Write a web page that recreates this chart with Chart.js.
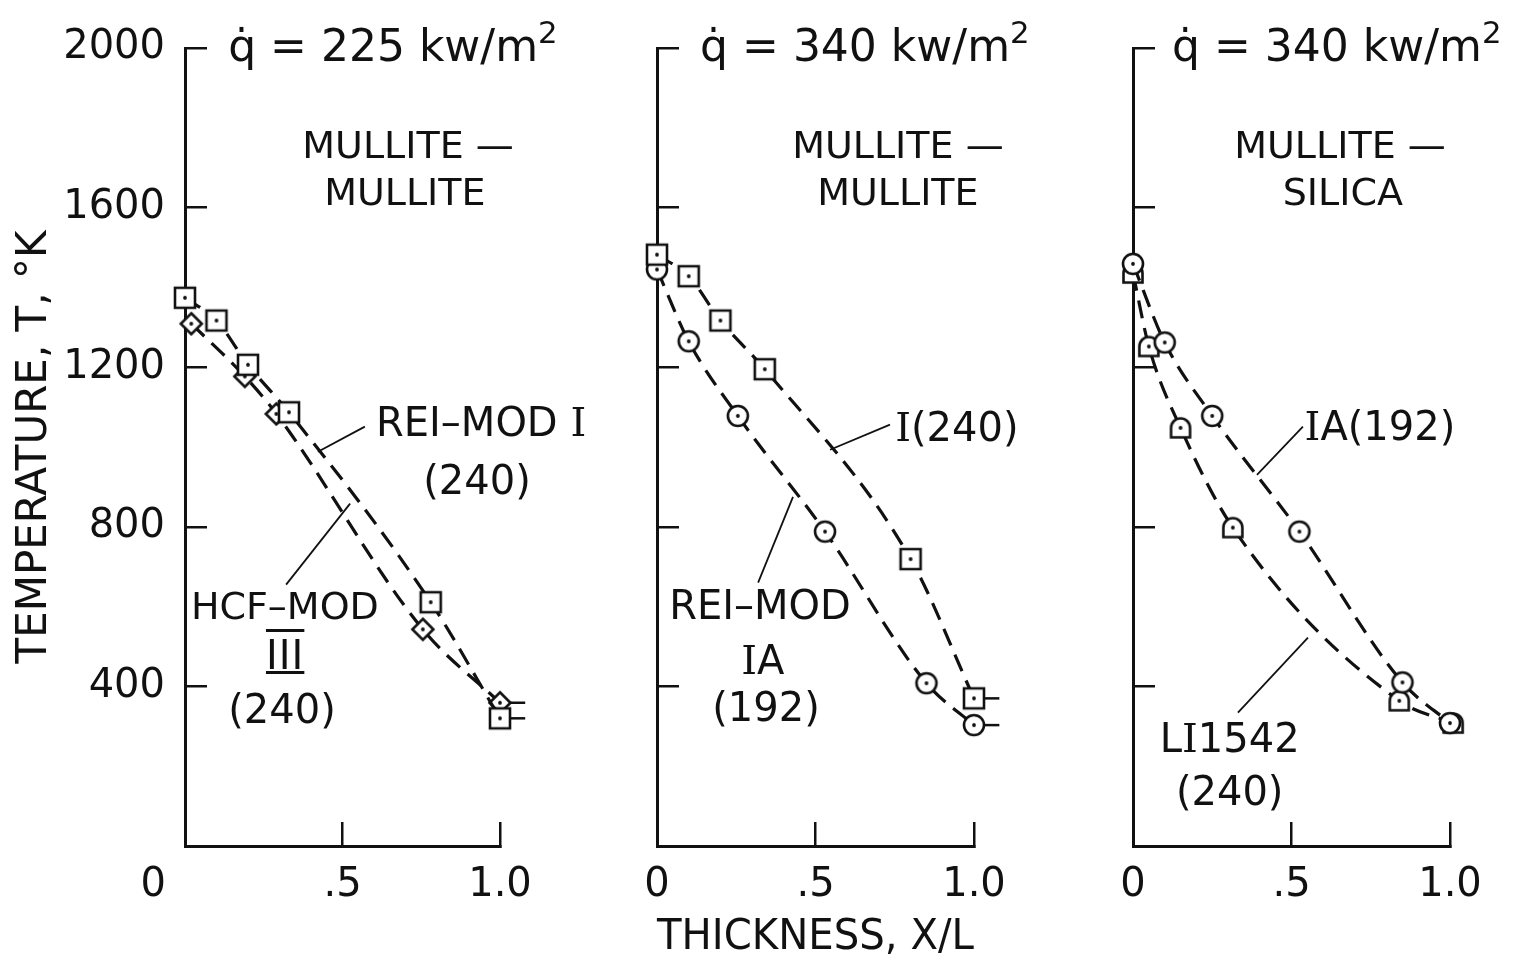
<!DOCTYPE html>
<html>
<head>
<meta charset="utf-8">
<script src="https://cdn.jsdelivr.net/npm/chart.js@4.4.1/dist/chart.umd.min.js"></script>
<style>
html, body { margin: 0; padding: 0; background: #fff; }
#wrap { position: relative; width: 1522px; height: 964px; overflow: hidden; }
#wrap canvas { position: absolute; left: 0; top: 0; }
.lbl { position: absolute; font-family: "DejaVu Sans"; color: #111; line-height: 1; white-space: nowrap; transform: translate(-50%, -50%); }
.lbl.start { transform: translate(0, -50%); }
.rn { font-family: "DejaVu Serif"; }
.sup { font-size: 0.7em; position: relative; top: -0.6em; }
.bars { text-decoration: overline underline; text-decoration-thickness: 3px; letter-spacing: 1px; }
</style>
</head>
<body>
<div id="wrap">
  <canvas id="c1" width="1522" height="964"></canvas>
  <canvas id="c2" width="1522" height="964"></canvas>
  <canvas id="c3" width="1522" height="964"></canvas>
</div>
<script>
// left panel, q = 225 kw/m2, mullite-mullite
var leftReiX = [0.0, 0.10, 0.20, 0.33, 0.78, 1.0];
var leftReiT = [1374, 1317, 1206, 1087, 611, 320];
var leftHcfX = [0.02, 0.19, 0.29, 0.755, 1.0];
var leftHcfT = [1309, 1177, 1083, 543, 359];

// middle panel, q = 340 kw/m2, mullite-mullite
var midIX = [0.0, 0.10, 0.20, 0.34, 0.80, 1.0];
var midIT = [1482, 1428, 1317, 1195, 719, 370];
var midIaX = [0.0, 0.10, 0.255, 0.53, 0.85, 1.0];
var midIaT = [1445, 1265, 1078, 788, 408, 303];

// right panel, q = 340 kw/m2, mullite-silica
var rightIaX = [0.0, 0.10, 0.25, 0.525, 0.85, 1.0];
var rightIaT = [1459, 1262, 1078, 788, 410, 308];
var rightLiX = [0.0, 0.05, 0.15, 0.315, 0.84, 1.01];
var rightLiT = [1436, 1252, 1048, 798, 364, 308];

// ticks
var xTickVals = [0, 0.5, 1.0];
var xTickLabels = ['0', '.5', '1.0'];
var yTickVals = [400, 800, 1200, 1600, 2000];
var yTickLabels = ['400', '800', '1200', '1600', '2000'];

Chart.defaults.font.family = 'DejaVu Sans';
Chart.defaults.color = '#111';

function pts(xs, ts) {
    return xs.map(function (x, i) { return { x: x, y: ts[i] }; });
}

function marker(shape) {
    var s = 30, m = s / 2, r = 10.5;
    var c = document.createElement('canvas');
    c.width = s; c.height = s;
    var g = c.getContext('2d');
    g.lineWidth = 2.6;
    g.strokeStyle = '#111';
    g.fillStyle = '#fff';
    g.beginPath();
    if (shape == 'square') {
        g.rect(m - r + 0.5, m - r + 0.5, 2 * r - 1, 2 * r - 1);
    } else if (shape == 'diamond') {
        g.moveTo(m, m - r); g.lineTo(m + r, m); g.lineTo(m, m + r); g.lineTo(m - r, m); g.closePath();
    } else if (shape == 'circle') {
        g.arc(m, m, r - 0.5, 0, 2 * Math.PI);
    } else {
        g.moveTo(m - r + 1, m + r - 1); g.lineTo(m - r + 1, m); g.arc(m, m, r - 1, Math.PI, 0); g.lineTo(m + r - 1, m + r - 1); g.closePath();
    }
    g.fill();
    g.stroke();
    g.fillStyle = '#111';
    g.beginPath();
    g.arc(m, m, 1.9, 0, 2 * Math.PI);
    g.fill();
    return c;
}

function curve(xs, ts, shape) {
    return {
        data: pts(xs, ts),
        borderColor: '#111', borderWidth: 3.2, borderDash: [18, 10],
        tension: 0.4, cubicInterpolationMode: 'monotone',
        pointStyle: marker(shape), pointRadius: 11, pointHoverRadius: 11,
        clip: false
    };
}

// short flag to the right of the back-face point
function tail(t) {
    return {
        data: [{ x: 1.0, y: t }, { x: 1.08, y: t }],
        borderColor: '#111', borderWidth: 2.5, pointRadius: 0, tension: 0, clip: false
    };
}

function leader(x1, t1, x2, t2) {
    return {
        data: [{ x: x1, y: t1 }, { x: x2, y: t2 }],
        borderColor: '#111', borderWidth: 1.8, pointRadius: 0, tension: 0, clip: false
    };
}

function makePanel(id, area, sets, opt) {
    return new Chart(document.getElementById(id), {
        type: 'line',
        data: { datasets: sets },
        options: {
            responsive: false,
            animation: false,
            devicePixelRatio: 1,
            events: [],
            layout: { padding: { left: area.left - opt.yWidth, right: 1522 - area.right, top: area.top, bottom: 0 } },
            plugins: { legend: { display: false }, tooltip: { enabled: false } },
            scales: {
                x: {
                    type: 'linear', min: 0, max: 1,
                    afterFit: function (s) { s.height = 964 - area.bottom; },
                    afterBuildTicks: function (s) { s.ticks = xTickVals.map(function (v) { return { value: v }; }); },
                    border: { display: true, color: '#111', width: 3 },
                    grid: { drawOnChartArea: false, drawTicks: true, tickLength: -24, color: '#111', lineWidth: 2.5 },
                    ticks: {
                        padding: 40, maxRotation: 0, autoSkip: false,
                        font: { size: 40 },
                        callback: function (v) {
                            var l = xTickLabels[xTickVals.indexOf(v)];
                            if (v === 0 && opt.zeroShift) l = l + '     ';
                            return l;
                        }
                    },
                    title: {
                        display: !!opt.xTitle, text: opt.xTitle || '',
                        font: { size: 42 }, padding: { top: 0, bottom: 1 }
                    }
                },
                y: {
                    type: 'linear', min: 0, max: 2000,
                    afterFit: function (s) { s.width = opt.yWidth; s.paddingTop = 0; s.paddingBottom = 0; },
                    afterBuildTicks: function (s) { s.ticks = yTickVals.map(function (v) { return { value: v }; }); },
                    border: { display: true, color: '#111', width: 3 },
                    grid: { drawOnChartArea: false, drawTicks: true, tickLength: -22, color: '#111', lineWidth: 2.5 },
                    ticks: {
                        padding: 42, font: { size: 40 },
                        callback: function (v) { return opt.yLabels ? yTickLabels[yTickVals.indexOf(v)] : ''; }
                    },
                    title: {
                        display: !!opt.yTitle, text: opt.yTitle || '',
                        font: { size: 42 }, padding: { top: 10, bottom: 0 }
                    }
                }
            }
        }
    });
}

var charts = [];
charts.push(makePanel('c1', { left: 185, right: 500, top: 48, bottom: 846 }, [
    curve(leftReiX, leftReiT, 'square'),
    curve(leftHcfX, leftHcfT, 'diamond'),
    tail(leftReiT[leftReiT.length - 1]),
    tail(leftHcfT[leftHcfT.length - 1]),
    leader(0.571, 1051, 0.422, 988),
    leader(0.321, 655, 0.524, 858)
], { yWidth: 185, yLabels: true, zeroShift: true, yTitle: 'TEMPERATURE, T, °K' }));

charts.push(makePanel('c2', { left: 657, right: 974, top: 48, bottom: 846 }, [
    curve(midIX, midIT, 'square'),
    curve(midIaX, midIaT, 'circle'),
    tail(midIT[midIT.length - 1]),
    tail(midIaT[midIaT.length - 1]),
    leader(0.735, 1056, 0.546, 993),
    leader(0.319, 660, 0.429, 875)
], { yWidth: 20, xTitle: 'THICKNESS, X/L' }));

charts.push(makePanel('c3', { left: 1133, right: 1450, top: 48, bottom: 846 }, [
    curve(rightIaX, rightIaT, 'circle'),
    curve(rightLiX, rightLiT, 'arch'),
    leader(0.536, 1051, 0.391, 930),
    leader(0.331, 334, 0.552, 522)
], { yWidth: 20 }));

// text labels, anchored in data units of each panel
var notes = [
    { p: 0, x: 0.137, t: 2004, size: 44, start: true, html: 'q\u0307 = 225 kw/m<span class="sup">2</span>' },
    { p: 1, x: 0.136, t: 2004, size: 44, start: true, html: 'q\u0307 = 340 kw/m<span class="sup">2</span>' },
    { p: 2, x: 0.123, t: 2004, size: 44, start: true, html: 'q\u0307 = 340 kw/m<span class="sup">2</span>' },
    { p: 0, x: 0.708, t: 1758, size: 38, html: 'MULLITE \u2014' },
    { p: 0, x: 0.698, t: 1638, size: 38, html: 'MULLITE' },
    { p: 1, x: 0.760, t: 1758, size: 38, html: 'MULLITE \u2014' },
    { p: 1, x: 0.760, t: 1638, size: 38, html: 'MULLITE' },
    { p: 2, x: 0.653, t: 1758, size: 38, html: 'MULLITE \u2014' },
    { p: 2, x: 0.662, t: 1638, size: 38, html: 'SILICA' },
    { p: 0, x: 0.940, t: 1063, size: 40, html: 'REI\u2013MOD <span class="rn">I</span>' },
    { p: 0, x: 0.927, t: 918, size: 40, html: '(240)' },
    { p: 0, x: 0.317, t: 602, size: 38, html: 'HCF\u2013MOD' },
    { p: 0, x: 0.318, t: 479, size: 40, html: '<span class="bars">III</span>' },
    { p: 0, x: 0.308, t: 343, size: 40, html: '(240)' },
    { p: 1, x: 0.946, t: 1051, size: 40, html: '<span class="rn">I</span>(240)' },
    { p: 1, x: 0.325, t: 604, size: 40, html: 'REI\u2013MOD' },
    { p: 1, x: 0.334, t: 466, size: 40, html: '<span class="rn">I</span>A' },
    { p: 1, x: 0.344, t: 349, size: 40, html: '(192)' },
    { p: 2, x: 0.779, t: 1053, size: 40, html: '<span class="rn">I</span>A(192)' },
    { p: 2, x: 0.305, t: 271, size: 40, html: 'L<span class="rn">I</span>1542' },
    { p: 2, x: 0.305, t: 138, size: 40, html: '(240)' }
];

var wrap = document.getElementById('wrap');
notes.forEach(function (n) {
    var ch = charts[n.p];
    var d = document.createElement('div');
    d.className = n.start ? 'lbl start' : 'lbl';
    d.style.fontSize = n.size + 'px';
    d.style.left = ch.scales.x.getPixelForValue(n.x) + 'px';
    d.style.top = ch.scales.y.getPixelForValue(n.t) + 'px';
    d.innerHTML = n.html;
    wrap.appendChild(d);
});
</script>
</body>
</html>
